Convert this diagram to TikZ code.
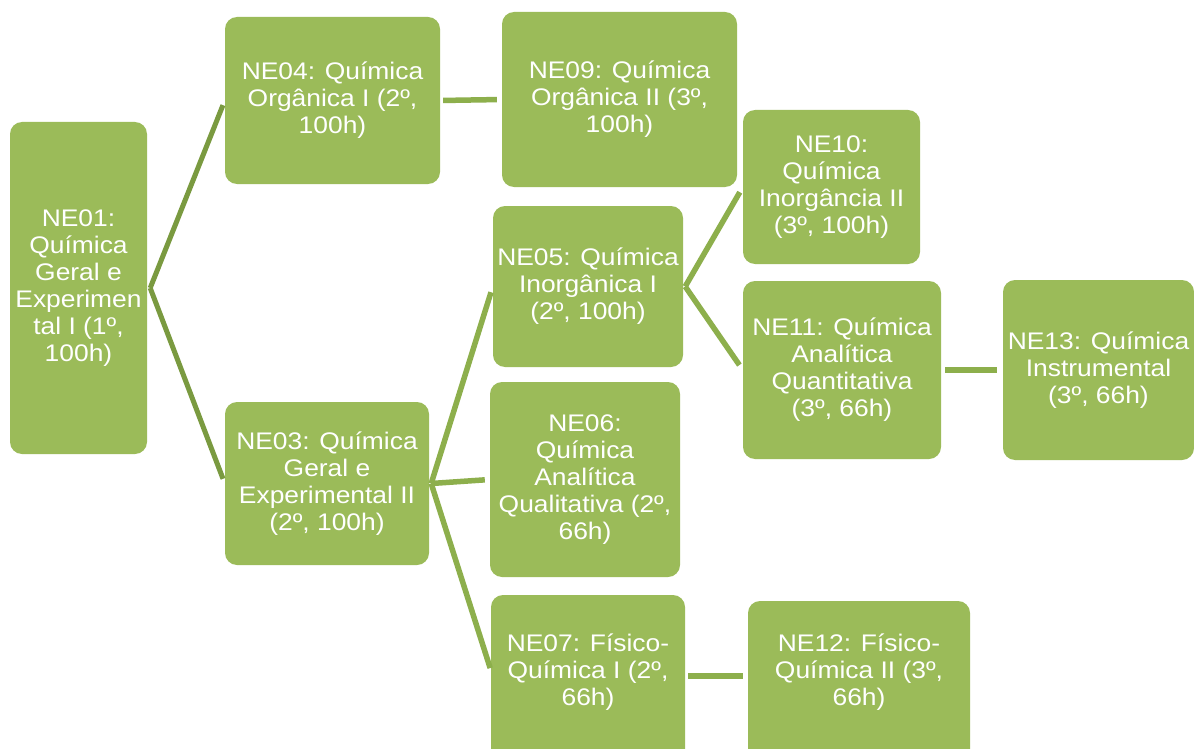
\documentclass[tikz,border=0pt]{standalone}
\usepackage{fontspec}
\setmainfont[FakeStretch=1.1]{Liberation Sans}
\usetikzlibrary{calc}
\definecolor{boxgreen}{HTML}{9BBB59}
\definecolor{linedark}{HTML}{7A9A40}
\definecolor{linemid}{HTML}{8DAF4C}
\tikzset{
  box/.style={draw=none, fill=boxgreen, rounded corners=12pt, inner sep=0pt,
    text=white, align=center, font=\fontsize{24}{27}\selectfont},
  lbl/.style={inner sep=0pt, text=white, align=center, font=\fontsize{24}{27}\selectfont},
  conn/.style={line width=5.5pt, linemid},
  conndark/.style={line width=5pt, linedark}
}
\begin{document}
\begin{tikzpicture}[x=1pt,y=-1pt]
\clip (0,0) rectangle (1194,749);
\fill[white] (0,0) rectangle (1194,749);
% boxes
\node[box, minimum width=137pt, minimum height=332pt] (NE01) at (78.5,288) {NE01:\\Química\\Geral e\\Experimen\\tal I (1º,\\100h)};
\node[box, minimum width=215pt, minimum height=167pt] (NE04) at (332.5,100.5) {NE04: Química\\Orgânica I (2º,\\100h)};
\node[box, minimum width=235pt, minimum height=175pt] (NE09) at (619.5,99.5) {NE09: Química\\Orgânica II (3º,\\100h)};
\node[box, minimum width=204pt, minimum height=163pt] (NE03) at (327,483.5) {NE03: Química\\Geral e\\Experimental II\\(2º, 100h)};
\node[box, minimum width=190pt, minimum height=161pt] (NE05) at (588,286.5) {NE05: Química\\Inorgânica I\\(2º, 100h)};
\node[box, minimum width=177pt, minimum height=154pt] (NE10) at (831.5,187) {NE10:\\Química\\Inorgância II\\(3º, 100h)};
\node[box, minimum width=198pt, minimum height=178pt] (NE11) at (842,370) {NE11: Química\\Analítica\\Quantitativa\\(3º, 66h)};
\node[box, minimum width=191pt, minimum height=180pt] (NE13) at (1098.5,370) {NE13: Química\\Instrumental\\(3º, 66h)};
\node[box, minimum width=190pt, minimum height=195pt] (NE06) at (585,479.5) {NE06:\\Química\\Analítica\\Qualitativa (2º,\\66h)};
\node[box, minimum width=194pt, minimum height=170pt] (NE07) at (588,680) {};
\node[lbl] (NE07t) at (588,672) {NE07: Físico-\\Química I (2º,\\66h)};
\node[box, minimum width=222pt, minimum height=170pt] (NE12) at (859,686) {};
\node[lbl] (NE12t) at (859,672) {NE12: Físico-\\Química II (3º,\\66h)};
% fork points and end points
\coordinate (v1) at ($(NE01.east)+(3,0)$);
\coordinate (v2) at ($(NE03.east)+(2,0)$);
\coordinate (v3) at ($(NE05.east)+(2,0)$);
\coordinate (e7) at ($(NE07.west)+(0,-10)$);
\coordinate (s7) at ($(NE07.east)+(0,-4)$);
\coordinate (e12) at ($(NE12.west)+(0,-10)$);
% connectors
\draw[conndark, shorten >=5pt] (v1) -- (NE04.west);
\draw[conndark, shorten >=5pt] (v1) -- (NE03.west);
\draw[conn, shorten <=3pt, shorten >=5pt] (NE04.east) -- (NE09.west);
\draw[conn, shorten >=6pt] (v2) -- (NE05.west);
\draw[conn, shorten >=5pt] (v2) -- (NE06.west);
\draw[conn, shorten >=2pt] (v2) -- (e7);
\draw[conn, shorten >=6pt] (v3) -- (NE10.west);
\draw[conn, shorten >=6pt] (v3) -- (NE11.west);
\draw[conn, shorten <=4pt, shorten >=6pt] (NE11.east) -- (NE13.west);
\draw[conn, shorten <=3pt, shorten >=5pt] (s7) -- (e12);
\end{tikzpicture}
\end{document}
